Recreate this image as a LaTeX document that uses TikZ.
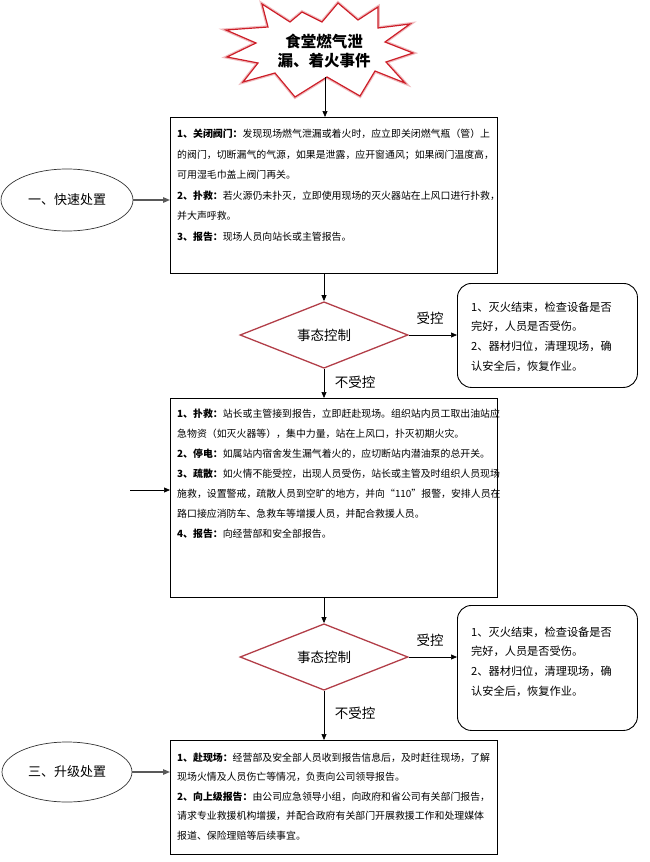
\documentclass[tikz,border=0pt]{standalone}
\usepackage{fontspec}
\setmainfont{Noto Sans CJK SC}
\usetikzlibrary{shapes.geometric,arrows.meta}
\definecolor{dred}{RGB}{178,62,72}
\definecolor{burstred}{RGB}{205,30,40}
\begin{document}
\begin{tikzpicture}[x=1pt,y=-1pt,
  arr/.style={draw=black, line width=0.7pt, -{Triangle[length=6pt,width=5pt]}},
  garr/.style={draw=black!65, line width=1.2pt, -{Triangle[length=7pt,width=5.5pt]}},
  box/.style={draw=black, line width=0.9pt, inner sep=0pt, anchor=north west},
  rbox/.style={draw=black, line width=0.9pt, rounded corners=14pt, inner sep=0pt, anchor=north west},
  btext/.style={anchor=north west, inner sep=0pt, align=left},
  rtext/.style={anchor=north west, inner sep=0pt, align=left, font=\fontsize{11.2}{19.8}\selectfont},
  dia/.style={diamond, draw=dred, line width=1.3pt, inner sep=0pt, minimum width=168pt, minimum height=62pt, font=\fontsize{13.5}{16}\selectfont},
  ell/.style={ellipse, draw=black!80, line width=0.7pt, inner sep=0pt, font=\fontsize{13}{16}\selectfont},
  lab/.style={inner sep=0pt, font=\fontsize{13.5}{16}\selectfont}
]
\useasboundingbox (0,0) rectangle (649,862);

% starburst
\draw[burstred!30, line width=3.5pt, line join=miter]
  (338,3) -- (358,20) -- (378,7) -- (378,28) -- (410,24) -- (385,42) -- (413,53) -- (386,62)
  -- (405,83) -- (375,71) -- (360,96) -- (327,77) -- (295,97) -- (275,73) -- (243,82)
  -- (258,63) -- (227,57) -- (256,43) -- (226,30) -- (268,27) -- (262,4) -- (290,22)
  -- (302,12) -- (322,22) -- cycle;
\draw[burstred, fill=white, line width=1.2pt, line join=miter]
  (338,3) -- (358,20) -- (378,7) -- (378,28) -- (410,24) -- (385,42) -- (413,53) -- (386,62)
  -- (405,83) -- (375,71) -- (360,96) -- (327,77) -- (295,97) -- (275,73) -- (243,82)
  -- (258,63) -- (227,57) -- (256,43) -- (226,30) -- (268,27) -- (262,4) -- (290,22)
  -- (302,12) -- (322,22) -- cycle;
\coordinate (bb) at (325,77);
\node[align=center, inner sep=0pt, font=\fontsize{15.5}{18.3}\selectfont\bfseries] (title) at (324,51) {食堂燃气泄\\漏、着火事件};

% box 1
\node[box, minimum width=327pt, minimum height=156pt] (b1) at (170,117) {};
\node[btext, font=\fontsize{9.9}{20.5}\selectfont] (t1) at (177,129) {%
\textbf{1、关闭阀门：}发现现场燃气泄漏或着火时，应立即关闭燃气瓶（管）上\\
的阀门，切断漏气的气源，如果是泄露，应开窗通风；如果阀门温度高，\\
可用湿毛巾盖上阀门再关。\\
\textbf{2、扑救：}若火源仍未扑灭，立即使用现场的灭火器站在上风口进行扑救，\\
并大声呼救。\\
\textbf{3、报告：}现场人员向站长或主管报告。};

\node[ell, minimum width=132pt, minimum height=62pt] (e1) at (67,200) {一、快速处置};

% diamond 1
\node[dia] (d1) at (324,335) {事态控制};
\node[rbox, minimum width=180pt, minimum height=104pt] (r1) at (457,283) {};
\node[rtext] (rt1) at (471,301.4) {%
1、灭火结束，检查设备是否\\
完好，人员是否受伤。\\
2、器材归位，清理现场，确\\
认安全后，恢复作业。};
\node[lab] (l1) at (430,318) {受控};
\node[lab] (l2) at (355,382) {不受控};

% box 2
\node[box, minimum width=327pt, minimum height=199pt] (b2) at (170,398) {};
\node[btext, font=\fontsize{9.9}{20}\selectfont] (t2) at (177,409) {%
\textbf{1、扑救：}站长或主管接到报告，立即赶赴现场。组织站内员工取出油站应\\
急物资（如灭火器等），集中力量，站在上风口，扑灭初期火灾。\\
\textbf{2、停电：}如属站内宿舍发生漏气着火的，应切断站内潜油泵的总开关。\\
\textbf{3、疏散：}如火情不能受控，出现人员受伤，站长或主管及时组织人员现场\\
施救，设置警戒，疏散人员到空旷的地方，并向“110”报警，安排人员在\\
路口接应消防车、急救车等增援人员，并配合救援人员。\\
\textbf{4、报告：}向经营部和安全部报告。};
\coordinate (lin) at (130,490);

% diamond 2
\node[dia] (d2) at (324,657) {事态控制};
\node[rbox, minimum width=180pt, minimum height=125pt] (r2) at (457,605) {};
\node[rtext] (rt2) at (471,626.4) {%
1、灭火结束，检查设备是否\\
完好，人员是否受伤。\\
2、器材归位，清理现场，确\\
认安全后，恢复作业。};
\node[lab] (l3) at (430,640) {受控};
\node[lab] (l4) at (355,713) {不受控};

% box 3
\node[box, minimum width=327pt, minimum height=114pt] (b3) at (170,740) {};
\node[btext, font=\fontsize{9.9}{19.5}\selectfont] (t3) at (177,752.5) {%
\textbf{1、赴现场：}经营部及安全部人员收到报告信息后，及时赶往现场，了解\\
现场火情及人员伤亡等情况，负责向公司领导报告。\\
\textbf{2、向上级报告：}由公司应急领导小组，向政府和省公司有关部门报告，\\
请求专业救援机构增援，并配合政府有关部门开展救援工作和处理媒体\\
报道、保险理赔等后续事宜。};
\node[ell, minimum width=130pt, minimum height=60pt] (e3) at (67,772) {三、升级处置};

% connectors
\draw[arr] (bb) -- (bb |- b1.north);
\draw[garr] (e1.east) -- (b1.west |- e1.east);
\draw[arr] (d1.north |- b1.south) -- (d1.north);
\draw[arr] (d1.east) -- (r1.west |- d1.east);
\draw[arr] (d1.south) -- (d1.south |- b2.north);
\draw[arr] (lin) -- (b2.west |- lin);
\draw[arr] (d2.north |- b2.south) -- (d2.north);
\draw[arr] (d2.east) -- (r2.west |- d2.east);
\draw[arr] (d2.south) -- (d2.south |- b3.north);
\draw[garr] (e3.east) -- (b3.west |- e3.east);
\end{tikzpicture}
\end{document}
